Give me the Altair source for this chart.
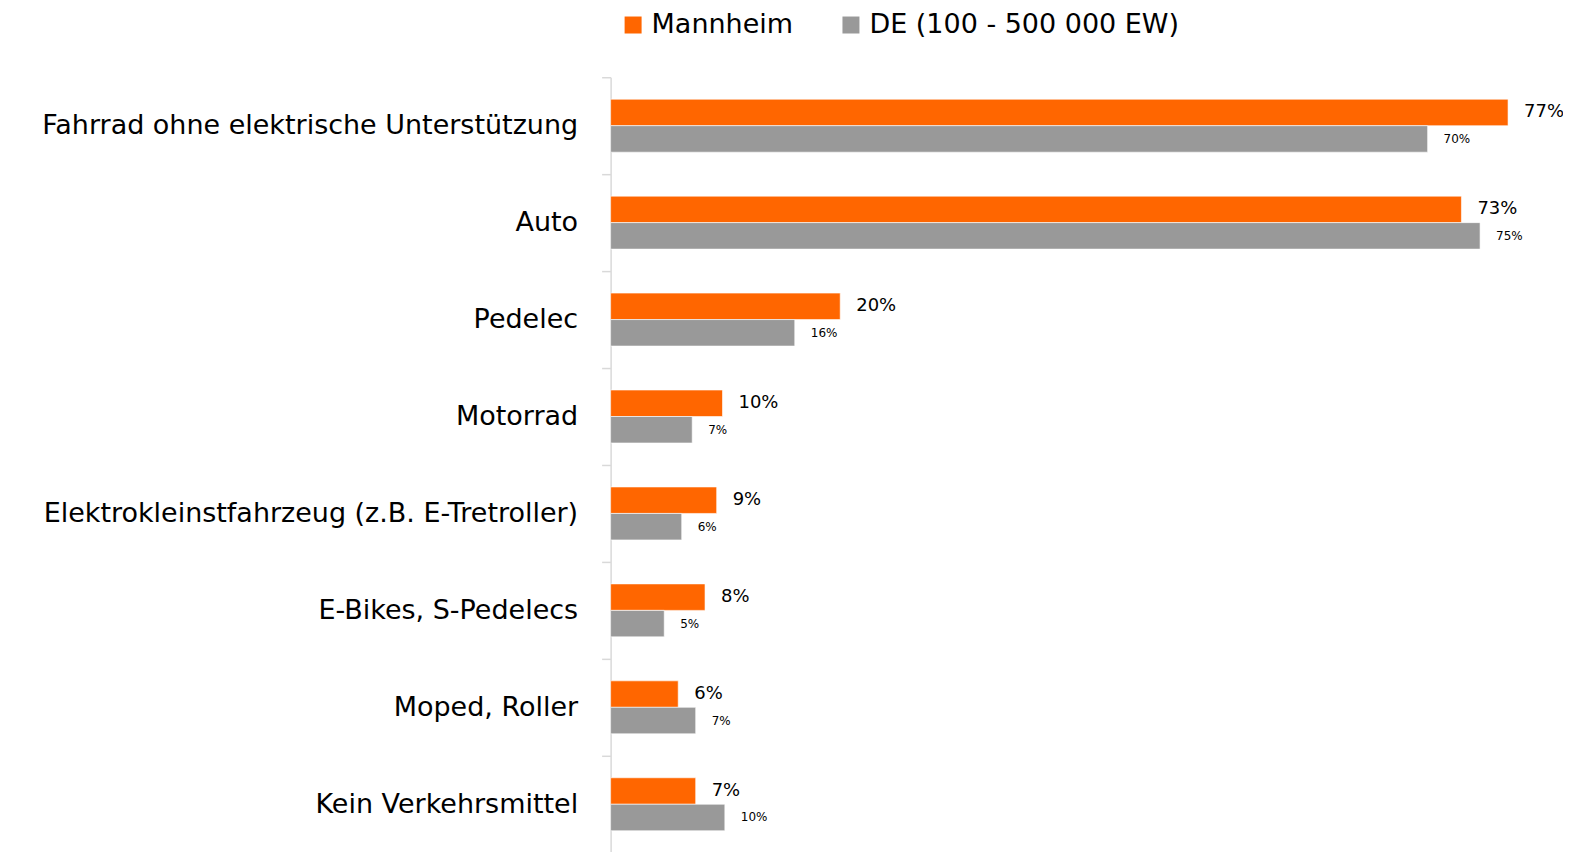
import altair as alt
import pandas as pd

categories = [
    "Fahrrad ohne elektrische Unterstützung",
    "Auto",
    "Pedelec",
    "Motorrad",
    "Elektrokleinstfahrzeug (z.B. E-Tretroller)",
    "E-Bikes, S-Pedelecs",
    "Moped, Roller",
    "Kein Verkehrsmittel",
]
series = ["Mannheim", "DE (100 - 500 000 EW)"]
mannheim = [77.0, 73.0, 19.7, 9.6, 9.1, 8.1, 5.8, 7.3]
de = [70.1, 74.6, 15.8, 7.0, 6.1, 4.6, 7.3, 9.8]
colors = ["#FF6600", "#999999"]

rows = []
for c, m, d in zip(categories, mannheim, de):
    rows.append({"cat": c, "series": series[0], "value": m, "label": f"{round(m):.0f}%"})
    rows.append({"cat": c, "series": series[1], "value": d, "label": f"{round(d):.0f}%"})
df = pd.DataFrame(rows)

FONT = "DejaVu Sans"

y_enc = alt.Y(
    "cat:N",
    sort=categories,
    scale=alt.Scale(paddingInner=0, paddingOuter=0),
    axis=alt.Axis(
        title=None,
        labelFontSize=27,
        labelFont=FONT,
        labelColor="#000000",
        labelPadding=24,
        labelLimit=700,
        domainColor="#d9d9d9",
        domainWidth=1.5,
        tickColor="#d9d9d9",
        tickWidth=1.5,
        tickSize=9,
        tickBand="extent",
    ),
)
yoff = alt.YOffset(
    "series:N",
    sort=series,
    scale=alt.Scale(domain=series, paddingInner=0, paddingOuter=0.83),
)
x_enc = alt.X("value:Q", scale=alt.Scale(domain=[0, 80]), axis=None)

bars = alt.Chart(df).mark_bar(stroke="white", strokeWidth=0.6).encode(
    y=y_enc,
    yOffset=yoff,
    x=x_enc,
    color=alt.Color(
        "series:N",
        sort=series,
        scale=alt.Scale(domain=series, range=colors),
        legend=alt.Legend(
            title=None,
            orient="none",
            legendX=9,
            legendY=-66,
            direction="horizontal",
            symbolType="square",
            symbolSize=289,
            symbolStrokeWidth=0,
            labelFontSize=27,
            labelFont=FONT,
            labelColor="#000000",
            labelOffset=5,
            columnPadding=44,
            labelLimit=500,
        ),
    ),
)

labels_m = alt.Chart(df).transform_filter(
    alt.datum.series == series[0]
).mark_text(
    align="left", baseline="middle", dx=16, font=FONT, fontSize=18, color="#000000"
).encode(
    y=alt.Y("cat:N", sort=categories),
    yOffset=yoff,
    x=x_enc,
    text="label:N",
)

labels_d = alt.Chart(df).transform_filter(
    alt.datum.series == series[1]
).mark_text(
    align="left", baseline="middle", dx=16, font=FONT, fontSize=12, color="#000000"
).encode(
    y=alt.Y("cat:N", sort=categories),
    yOffset=yoff,
    x=x_enc,
    text="label:N",
)

chart = (
    alt.layer(bars, labels_m, labels_d)
    .properties(
        width=933,
        height=776,
        autosize=alt.AutoSizeParams(type="none"),
        padding={"left": 603, "top": 69, "right": 20, "bottom": 0},
        background="white",
    )
    .configure_view(stroke=None)
)

chart.save("out.html", embed_options={"renderer": "svg", "actions": False})
